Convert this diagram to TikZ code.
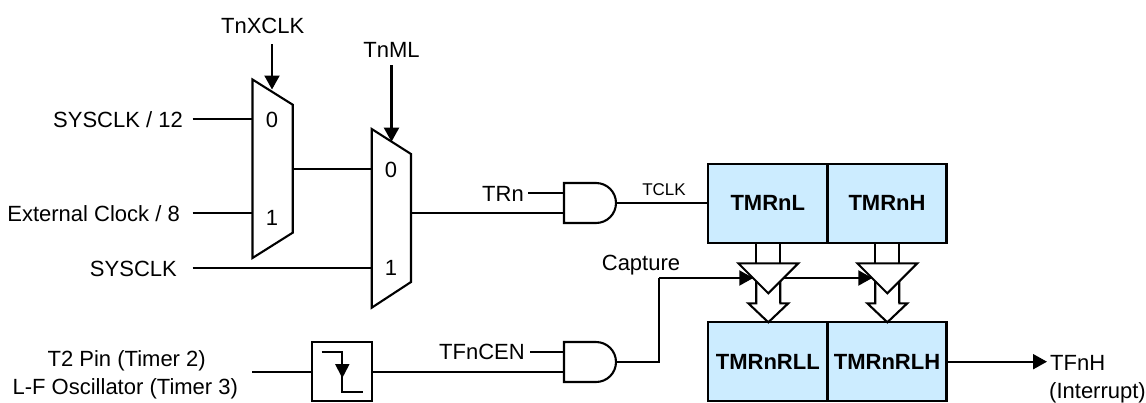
\documentclass[tikz,border=0pt]{standalone}
\usepackage{fontspec}
\setmainfont{Liberation Sans}
\usetikzlibrary{arrows.meta}
\definecolor{regblue}{HTML}{CCECFF}
\tikzset{
  wire/.style={line width=2.1pt},
  sig/.style={wire,-{Triangle[length=14pt,width=15pt]}},
  lbl/.style={font=\fontsize{22}{26}\selectfont,text height=16pt,text depth=0pt,inner sep=0pt},
  regbox/.style={draw,wire,fill=regblue,minimum width=119pt,minimum height=78.7pt,inner sep=0pt,
    font=\fontsize{22}{26}\selectfont\bfseries},
  muxshape/.style={draw,wire,fill=white,line join=miter}
}
\begin{document}
\begin{tikzpicture}[x=1pt,y=-1pt]
  \useasboundingbox (0,0) rectangle (1146,402);
  % muxes
  \draw[muxshape] (252.5,79.5) -- (292.7,104.7) -- (292.7,232.7) -- (252.5,258) -- cycle;
  \draw[muxshape] (371.7,129) -- (411,154) -- (411,282) -- (371.7,307.7) -- cycle;
  \node[lbl] (muxazero) at (272,119) {0};
  \node[lbl] (muxaone) at (272,217) {1};
  \node[lbl] (muxbzero) at (391,169) {0};
  \node[lbl] (muxbone) at (391,267) {1};
  \coordinate (ain0) at (252.5,119.3);
  \coordinate (ain1) at (252.5,213.3);
  \coordinate (aout) at (292.7,169);
  \coordinate (bin0) at (371.7,169);
  \coordinate (bin1) at (371.7,268);
  \coordinate (bout) at (411,213);
  \coordinate (atop) at (272,89.5);
  \coordinate (atail) at (272,44);
  \coordinate (btop) at (391.5,141.7);
  \coordinate (btail) at (391.5,65);
  % left inputs
  \node[lbl,anchor=east] (sysdiv) at (183,119.3) {SYSCLK / 12};
  \node[lbl,anchor=east] (extclk) at (180,213.3) {External Clock / 8};
  \node[lbl,anchor=east] (sysclk) at (177,268) {SYSCLK};
  \node[lbl] (tnxclk) at (262.7,25) {TnXCLK};
  \node[lbl] (tnml) at (391.5,49) {TnML};
  \coordinate (sysdivend) at (192.5,119.3);
  \coordinate (extclkend) at (192.5,213.3);
  \coordinate (sysclkend) at (192.5,268);
  \draw[wire] (sysdivend) -- (ain0);
  \draw[wire] (extclkend) -- (ain1);
  \draw[wire] (sysclkend) -- (bin1);
  \draw[wire] (aout) -- (bin0);
  \draw[sig] (atail) -- (atop);
  \draw[sig] (btail) -- (btop);
  % and gates
  \draw[wire,fill=white] (564,183) -- (596,183) arc (-90:90:20) -- (564,223) -- cycle;
  \draw[wire,fill=white] (564,342) -- (596,342) arc (-90:90:20) -- (564,382) -- cycle;
  \coordinate (ganda) at (564,193.3);
  \coordinate (gandb) at (564,213);
  \coordinate (gandc) at (616,203);
  \coordinate (gcapa) at (564,351.7);
  \coordinate (gcapb) at (564,371.7);
  \coordinate (gcapc) at (616,361.7);
  \node[lbl,anchor=east] (trn) at (524,193.3) {TRn};
  \node[lbl,anchor=east] (tfncen) at (525,351.7) {TFnCEN};
  \coordinate (trnend) at (528,193.3);
  \coordinate (tfncenend) at (530,351.7);
  \draw[wire] (trnend) -- (ganda);
  \draw[wire] (tfncenend) -- (gcapa);
  \draw[wire] (bout) -- (gandb);
  % edge detector
  \node[draw,wire,minimum width=60pt,minimum height=59pt,inner sep=0pt] (edgebox) at (342,371.7) {};
  \node[lbl] (tpin) at (126.7,358) {T2 Pin (Timer 2)};
  \node[lbl] (lfosc) at (125.3,386.7) {L-F Oscillator (Timer 3)};
  \coordinate (pinin) at (252,371.7);
  \draw[wire] (pinin) -- (edgebox.west);
  \draw[wire] (edgebox.east) -- (gcapb);
  \draw[wire] (321.7,351.7) -- (342.3,351.7) -- (342.3,391.7) -- (362.7,391.7);
  \fill (335,364) -- (349.6,364) -- (342.3,378) -- cycle;
  % counter and reload registers
  \node[regbox] (tmrl) at (767.8,203.3) {TMRnL};
  \node[regbox] (tmrh) at (887,203.3) {TMRnH};
  \node[regbox] (rll) at (767.8,361.7) {TMRnRLL};
  \node[regbox] (rlh) at (887,361.7) {TMRnRLH};
  \draw[wire] (gandc) -- (tmrl.west |- gandc);
  \node[lbl,font=\fontsize{17}{20}\selectfont,text height=12.2pt] (tclk) at (664,189) {TCLK};
  % transfer gates
  \foreach \nm/\cx in {a/768.3,b/887.3}{
    \draw[wire] (\cx-12,242.7) -- (\cx-12,303.3);
    \draw[wire] (\cx+12,242.7) -- (\cx+12,303.3);
    \draw[muxshape] (\cx-30,263.3) -- (\cx+30,263.3) -- (\cx,293.3) -- cycle;
    \draw[wire] (\cx-12,281) -- (\cx-12,303.3) -- (\cx-20,303.3) -- (\cx,322.3) -- (\cx+20,303.3) -- (\cx+12,303.3) -- (\cx+12,281);
    \coordinate (left\nm) at (\cx-15,278);
    \coordinate (right\nm) at (\cx+15,278);
  }
  \node[lbl] (capture) at (641,262) {Capture};
  \coordinate (bend) at (659.3,278);
  \draw[wire] (gcapc) -| (bend);
  \draw[sig] (bend) -- (lefta);
  \draw[sig] (righta) -- (leftb);
  % interrupt output
  \node[lbl,anchor=west] (tfnh) at (1050,362.7) {TFnH};
  \node[lbl,anchor=west] (irq) at (1049,390) {(Interrupt)};
  \coordinate (tfnhend) at (1047,361.7);
  \draw[sig] (rlh.east) -- (tfnhend);
\end{tikzpicture}
\end{document}
